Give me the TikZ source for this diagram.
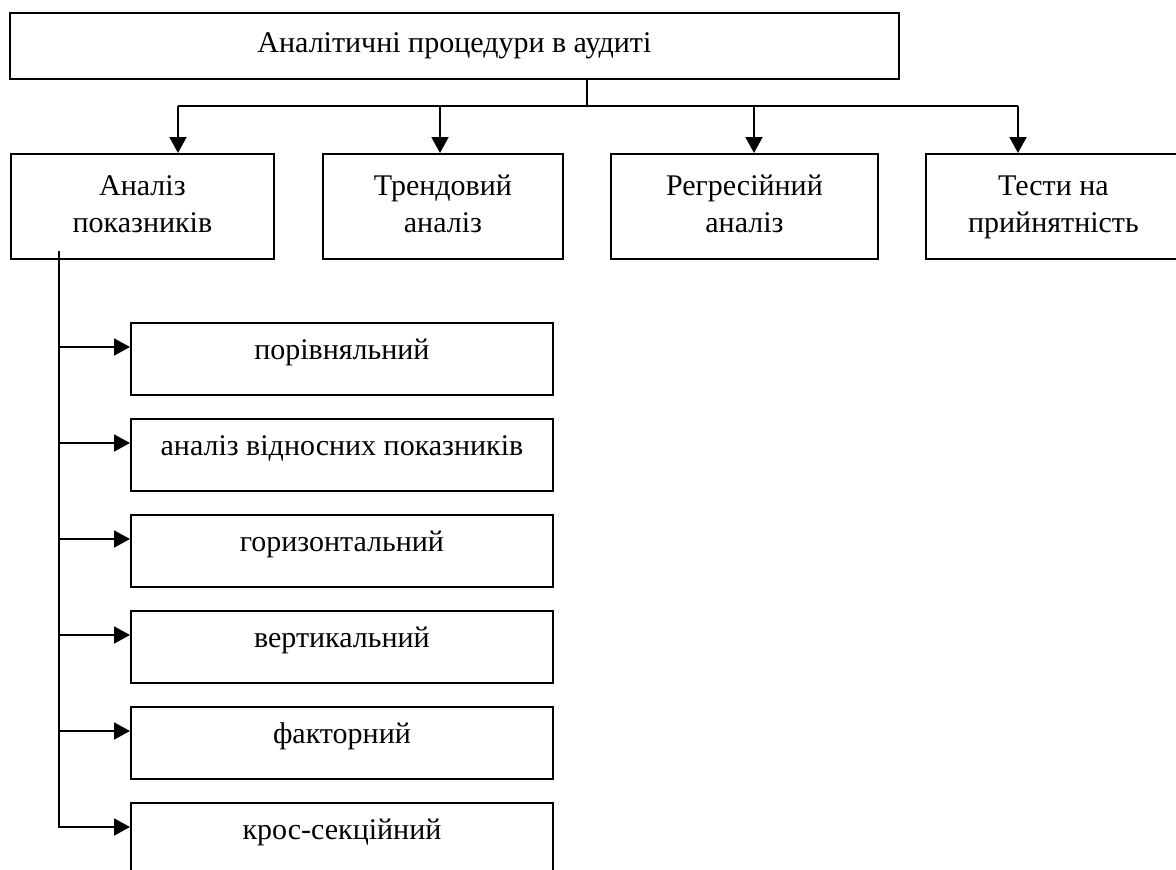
\documentclass[tikz,border=0pt]{standalone}
\usepackage{fontspec}
\setmainfont{Liberation Serif}
\usetikzlibrary{arrows.meta}
\newcommand{\twolines}[2]{\strut#1\\\strut#2}

\begin{document}
\begin{tikzpicture}[x=1pt,y=-1pt,line width=1.9pt]
\tikzset{box/.style={draw,inner sep=0pt,font={\fontsize{30pt}{37pt}\selectfont}},
mainbox/.style={box,anchor=north west,minimum height=105pt,align=center},
subbox/.style={box,anchor=north west,minimum width=422pt,
text height=37pt,text depth=35pt},
arr/.style={-{Triangle[length=16pt,width=17pt]}},
}
\path[use as bounding box,clip] (0,0) rectangle (1176,870);

\node[box,anchor=north west,minimum width=889pt,minimum height=66pt] (top) at (9,12)
{Аналітичні процедури в аудиті};

\node[mainbox,minimum width=263pt] (a1) at (10,153) {\twolines{Аналіз}{показників}};
\node[mainbox,minimum width=240pt] (a2) at (322,153) {\twolines{Трендовий}{аналіз}};
\node[mainbox,minimum width=267pt] (a3) at (610,153) {\twolines{Регресійний}{аналіз}};
\node[mainbox,minimum width=255pt] (a4) at (925,153) {\twolines{Тести на}{прийнятність}};

\coordinate (fork) at (587,106);
\foreach \x [count=\i] in {178,440,754,1018} \coordinate (j\i) at (\x,106);
\draw (top.south -| fork) -- (fork);
\draw (j1) -- (j4);
\foreach \i in {1,...,4} \draw[arr] (j\i) -- (j\i |- a\i.north);

\foreach \t [count=\i] in {порівняльний,аналіз відносних показників,горизонтальний,
вертикальний,факторний,крос-секційний}{
  \node[subbox] (s\i) at (130,{322+96*(\i-1)}) {\t};
  \coordinate (e\i) at ([yshift=-25pt]s\i.north west);
}
\coordinate (spine) at (59,251);
\draw[arr] (spine) |- (e6);
\foreach \i in {1,...,5} \draw[arr] (e\i -| spine) -- (e\i);
\end{tikzpicture}
\end{document}
